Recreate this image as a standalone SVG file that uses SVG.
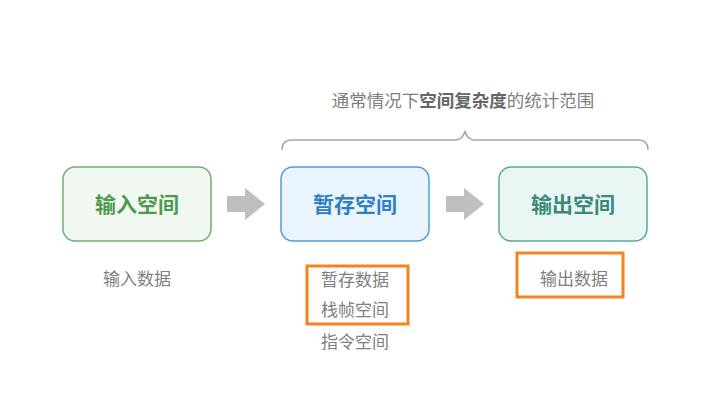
<svg xmlns="http://www.w3.org/2000/svg" width="725" height="400" viewBox="0 0 725 400">
<style>
.t{font-family:"Noto Sans CJK SC","Noto Sans",sans-serif;}
.lbl{font-size:21px;font-weight:bold;text-anchor:middle;dominant-baseline:central;}
.sub{font-size:17px;fill:#808080;text-anchor:middle;dominant-baseline:central;}
.hl{fill:none;stroke:#f5821f;stroke-width:3;}
</style>
<rect width="725" height="400" fill="#ffffff"/>
<text class="t" x="463" y="99" font-size="17.5" fill="#808080" text-anchor="middle" dominant-baseline="central">通常情况下<tspan font-weight="bold" fill="#666666">空间复杂度</tspan>的统计范围</text>
<path d="M282 150 Q282 140 292 140 L455 140 Q463 140 465 131 Q467 140 475 140 L638 140 Q648 140 648 150" fill="none" stroke="#a6a6a6" stroke-width="1.5"/>
<g id="n1">
<rect x="63" y="167" width="148" height="74" rx="12" fill="#f1f8f1" stroke="#6fae6f" stroke-width="1.5"/>
<text class="t lbl" x="137" y="203" fill="#4c9a4c">输入空间</text>
</g>
<g id="n2">
<rect x="281" y="167" width="148" height="74" rx="12" fill="#e9f4fc" stroke="#4d9ddb" stroke-width="1.5"/>
<text class="t lbl" x="355" y="203" fill="#2f80c6">暂存空间</text>
</g>
<g id="n3">
<rect x="499" y="167" width="148" height="74" rx="12" fill="#eaf6f4" stroke="#5ea89a" stroke-width="1.5"/>
<text class="t lbl" x="573" y="203" fill="#3a8a7c">输出空间</text>
</g>
<g id="connectors" fill="#bfbfbf">
<polygon points="227,196 245,196 245,188 265,204 245,220 245,212 227,212"/>
<polygon points="446,196 464,196 464,188 484,204 464,220 464,212 446,212"/>
</g>
<g id="s1"><text class="t sub" x="137" y="277">输入数据</text></g>
<g id="s2">
<text class="t sub" x="355" y="278">暂存数据</text>
<text class="t sub" x="355" y="308">栈帧空间</text>
<text class="t sub" x="355" y="340">指令空间</text>
<rect class="hl" x="307" y="266" width="101" height="58"/>
</g>
<g id="s3">
<text class="t sub" x="574" y="277">输出数据</text>
<rect class="hl" x="517" y="253" width="106" height="44"/>
</g>
</svg>
